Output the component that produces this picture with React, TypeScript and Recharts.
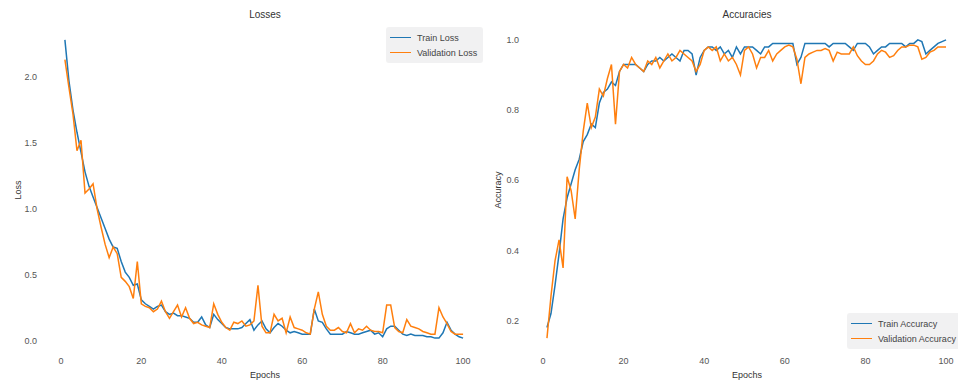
import { Line, LineChart, XAxis, YAxis } from "recharts";

const trainLoss = [
  2.28, 1.97, 1.75, 1.58, 1.43, 1.28, 1.17, 1.09, 1.01, 0.93,
  0.85, 0.77, 0.71, 0.7, 0.6, 0.52, 0.48, 0.42, 0.43, 0.31,
  0.28, 0.26, 0.24, 0.26, 0.27, 0.22, 0.2, 0.21, 0.19, 0.19,
  0.18, 0.17, 0.14, 0.14, 0.18, 0.12, 0.1, 0.2, 0.16, 0.13,
  0.1, 0.09, 0.09, 0.09, 0.1, 0.13, 0.16, 0.08, 0.12, 0.15,
  0.09, 0.06, 0.1, 0.13, 0.11, 0.08, 0.06, 0.07, 0.06, 0.05,
  0.05, 0.05, 0.24, 0.15, 0.14, 0.09, 0.05, 0.05, 0.05, 0.05,
  0.07, 0.06, 0.05, 0.05, 0.06, 0.07, 0.08, 0.05, 0.06, 0.03,
  0.09, 0.11, 0.11, 0.08, 0.05, 0.04, 0.05, 0.04, 0.04, 0.04,
  0.03, 0.03, 0.02, 0.02, 0.06, 0.14, 0.08, 0.05, 0.03, 0.02,
];

const valLoss = [
  2.13, 1.92, 1.72, 1.44, 1.52, 1.12, 1.15, 1.19, 1.0, 0.86,
  0.73, 0.63, 0.71, 0.66, 0.48, 0.45, 0.41, 0.32, 0.6, 0.28,
  0.26, 0.25, 0.22, 0.24, 0.3, 0.22, 0.17, 0.22, 0.27, 0.18,
  0.25, 0.17, 0.13, 0.14, 0.12, 0.11, 0.1, 0.28, 0.2, 0.14,
  0.1, 0.08, 0.14, 0.13, 0.15, 0.11, 0.12, 0.15, 0.42, 0.11,
  0.06, 0.06, 0.2, 0.15, 0.17, 0.06, 0.18, 0.1, 0.09, 0.08,
  0.06, 0.05, 0.24, 0.37, 0.2, 0.11, 0.08, 0.08, 0.1, 0.07,
  0.06, 0.13, 0.06, 0.09, 0.08, 0.11, 0.08, 0.07, 0.07, 0.06,
  0.27, 0.27, 0.1, 0.07, 0.06, 0.16, 0.11, 0.1, 0.09, 0.07,
  0.06, 0.05, 0.05, 0.25, 0.18, 0.13, 0.07, 0.05, 0.05, 0.05,
];

const trainAcc = [
  0.18, 0.22, 0.3, 0.39, 0.49, 0.55, 0.59, 0.63, 0.66, 0.71,
  0.73, 0.76, 0.75, 0.82, 0.85, 0.86, 0.88, 0.87, 0.91, 0.93,
  0.93, 0.93, 0.93, 0.92, 0.91, 0.93, 0.94, 0.94, 0.95, 0.94,
  0.95, 0.96, 0.95, 0.94, 0.97, 0.97, 0.96, 0.9, 0.95, 0.97,
  0.98, 0.98, 0.97, 0.98, 0.96, 0.97, 0.95, 0.98, 0.96, 0.98,
  0.98, 0.98, 0.97, 0.96, 0.98, 0.98, 0.99, 0.99, 0.99, 0.99,
  0.99, 0.99, 0.93, 0.95, 0.99, 0.99, 0.99, 0.99, 0.99, 0.99,
  0.98, 0.99, 0.99, 0.99, 0.99, 0.98, 0.97, 0.99, 0.99, 0.99,
  0.98, 0.96, 0.97, 0.98, 0.98, 0.99, 0.99, 0.99, 0.99, 0.98,
  0.99, 0.99, 1.0, 0.995, 0.96, 0.97, 0.98, 0.99, 0.995, 1.0,
];

const valAcc = [
  0.15, 0.27, 0.37, 0.43, 0.35, 0.61, 0.57, 0.49, 0.63, 0.74,
  0.82, 0.75, 0.78, 0.86, 0.84, 0.89, 0.93, 0.76, 0.91, 0.93,
  0.92, 0.95, 0.93, 0.92, 0.91, 0.94, 0.93, 0.95, 0.92, 0.94,
  0.96, 0.94, 0.95, 0.97, 0.96, 0.95, 0.94, 0.91, 0.93, 0.97,
  0.98, 0.97, 0.98, 0.94, 0.96, 0.94, 0.95, 0.93, 0.9, 0.97,
  0.98, 0.96, 0.92, 0.95, 0.95, 0.97, 0.94, 0.96, 0.97, 0.98,
  0.985, 0.98, 0.945, 0.875, 0.95, 0.96, 0.965, 0.97, 0.97, 0.975,
  0.97, 0.94, 0.965, 0.96, 0.96, 0.96, 0.98, 0.955, 0.94, 0.93,
  0.93, 0.94, 0.96, 0.97, 0.965, 0.95, 0.955, 0.97, 0.98, 0.98,
  0.985, 0.985, 0.98, 0.945, 0.95, 0.965, 0.97, 0.98, 0.98, 0.98,
];

const epochTicks = [0, 20, 40, 60, 80, 100];
const lossTicks = [0, 0.5, 1, 1.5, 2];
const accTicks = [0.2, 0.4, 0.6, 0.8, 1.0];

const BLUE = "#1f77b4";
const ORANGE = "#ff7f0e";
const FONT = "'Liberation Sans', Arial, sans-serif";
const tickStyle = { fontSize: 9, fill: "#555", fontFamily: FONT };

const lossData = trainLoss.map((v, i) => ({ epoch: i + 1, train: v, val: valLoss[i] }));
const accData = trainAcc.map((v, i) => ({ epoch: i + 1, train: v, val: valAcc[i] }));

function Legend({ left, top, labels }: { left: number; top: number; labels: string[] }) {
  return (
    <div
      style={{
        position: "absolute",
        left,
        top,
        background: "rgba(238,238,240,0.85)",
        borderRadius: 3,
        padding: "3px 6px 3px 4px",
        fontFamily: FONT,
        fontSize: 9,
        color: "#444",
        whiteSpace: "nowrap",
      }}
    >
      {labels.map((l, i) => (
        <div key={l} style={{ display: "flex", alignItems: "center", height: 15 }}>
          <span
            style={{
              display: "inline-block",
              width: 21,
              height: 1.5,
              background: i === 0 ? BLUE : ORANGE,
              marginRight: 6,
            }}
          />
          {l}
        </div>
      ))}
    </div>
  );
}

function Panel({
  data,
  left,
  width,
  yWidth,
  rightMargin,
  yDomain,
  yTicks,
}: {
  data: { epoch: number; train: number; val: number }[];
  left: number;
  width: number;
  yWidth: number;
  rightMargin: number;
  yDomain: [number, number];
  yTicks: number[];
}) {
  return (
    <div style={{ position: "absolute", left, top: 0 }}>
      <LineChart
        width={width}
        height={382}
        data={data}
        margin={{ top: 25, right: rightMargin, bottom: 0, left: 0 }}
      >
        <XAxis
          dataKey="epoch"
          type="number"
          domain={[-3.95, 104.95]}
          ticks={epochTicks}
          allowDataOverflow
          axisLine={false}
          tickLine={false}
          tickSize={0}
          tickMargin={5}
          height={29}
          tick={tickStyle}
        />
        <YAxis
          type="number"
          domain={yDomain}
          ticks={yTicks}
          allowDataOverflow
          axisLine={false}
          tickLine={false}
          width={yWidth}
          tick={tickStyle}
          tickFormatter={(v: number) => v.toFixed(1)}
        />
        <Line
          type="linear"
          dataKey="train"
          stroke={BLUE}
          strokeWidth={1.5}
          dot={false}
          isAnimationActive={false}
        />
        <Line
          type="linear"
          dataKey="val"
          stroke={ORANGE}
          strokeWidth={1.5}
          dot={false}
          isAnimationActive={false}
        />
      </LineChart>
    </div>
  );
}

const textStyle = { position: "absolute" as const, fontFamily: FONT, color: "#333", whiteSpace: "nowrap" as const };

export default function App() {
  return (
    <div
      style={{
        position: "absolute",
        left: 0,
        top: 0,
        width: 958,
        height: 382,
        overflow: "hidden",
        background: "#fff",
      }}
    >
      <Panel
        data={lossData}
        left={0}
        width={490}
        yWidth={45}
        rightMargin={7}
        yDomain={[-0.093, 2.393]}
        yTicks={lossTicks}
      />
      <Panel
        data={accData}
        left={490}
        width={480}
        yWidth={37}
        rightMargin={4}
        yDomain={[0.1075, 1.0425]}
        yTicks={accTicks}
      />

      <div style={{ ...textStyle, left: 265, top: 9, fontSize: 10, transform: "translateX(-50%)" }}>Losses</div>
      <div style={{ ...textStyle, left: 747, top: 9, fontSize: 10, transform: "translateX(-50%)" }}>Accuracies</div>
      <div style={{ ...textStyle, left: 265, top: 370, fontSize: 9, transform: "translateX(-50%)" }}>Epochs</div>
      <div style={{ ...textStyle, left: 747, top: 370, fontSize: 9, transform: "translateX(-50%)" }}>Epochs</div>
      <div
        style={{
          ...textStyle,
          left: 18,
          top: 190,
          fontSize: 9,
          transform: "translate(-50%, -50%) rotate(-90deg)",
        }}
      >
        Loss
      </div>
      <div
        style={{
          ...textStyle,
          left: 498,
          top: 190,
          fontSize: 9,
          transform: "translate(-50%, -50%) rotate(-90deg)",
        }}
      >
        Accuracy
      </div>

      <Legend left={386} top={27} labels={["Train Loss", "Validation Loss"]} />
      <Legend left={847} top={313} labels={["Train Accuracy", "Validation Accuracy"]} />
    </div>
  );
}
